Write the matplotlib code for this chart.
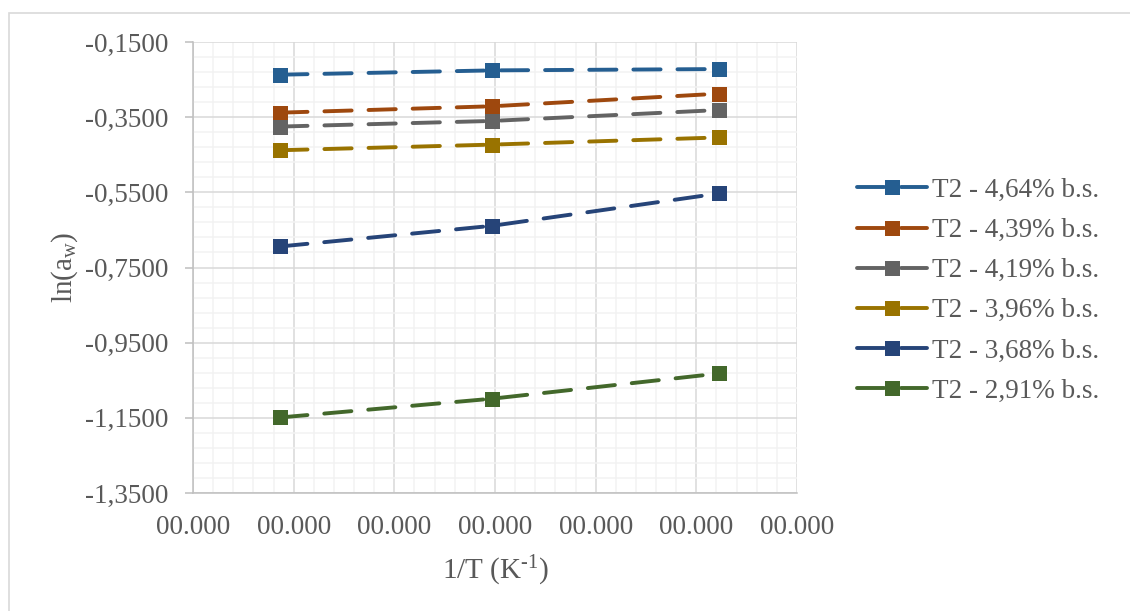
import numpy as np
import matplotlib
matplotlib.use("Agg")
import matplotlib.pyplot as plt
from matplotlib.ticker import FixedLocator, MultipleLocator, FuncFormatter
from matplotlib.patches import Rectangle

plt.rcParams['font.family'] = ['Liberation Serif', 'DejaVu Serif']
plt.rcParams['mathtext.fontset'] = 'custom'
plt.rcParams['mathtext.rm'] = 'Liberation Serif'
plt.rcParams['mathtext.it'] = 'Liberation Serif:italic'

# temperaturas 40, 30 e 20 °C
temp_K = np.array([313.15, 303.15, 293.15])
inv_T = 1.0 / temp_K

series = ["T2 - 4,64% b.s.", "T2 - 4,39% b.s.", "T2 - 4,19% b.s.",
          "T2 - 3,96% b.s.", "T2 - 3,68% b.s.", "T2 - 2,91% b.s."]
ln_aw_464 = [-0.237, -0.2255, -0.222]
ln_aw_439 = [-0.338, -0.321, -0.2875]
ln_aw_419 = [-0.375, -0.360, -0.331]
ln_aw_396 = [-0.438, -0.423, -0.404]
ln_aw_368 = [-0.694, -0.639, -0.553]
ln_aw_291 = [-1.149, -1.099, -1.032]
valores = [ln_aw_464, ln_aw_439, ln_aw_419, ln_aw_396, ln_aw_368, ln_aw_291]
cores = ["#255E91", "#9E480E", "#636363", "#997300", "#264478", "#43682B"]

cinza = "#595959"

fig = plt.figure(figsize=(11.3, 6.11), dpi=100)
# moldura do gráfico (só aparecem as bordas esquerda e superior)
fig.patches.append(Rectangle((9 / 1130, -0.5), 1.5, 1.5 - 13 / 611, transform=fig.transFigure,
                             fill=False, edgecolor="#d9d9d9", linewidth=1.2))
ax = fig.add_axes([193 / 1130, 1 - 493 / 611, 604 / 1130, 451 / 611])

for nome, y, c in zip(series, valores, cores):
    ax.plot(inv_T, y, color=c, linewidth=2.8, dashes=(7.0, 4.35), dash_capstyle='round',
            marker='s', markersize=10.8, markeredgewidth=0, label=nome, zorder=3)

ax.set_xlim(0.00315, 0.00345)
ax.set_ylim(-1.35, -0.15)
ax.xaxis.set_major_locator(MultipleLocator(0.00005))
ax.xaxis.set_minor_locator(MultipleLocator(0.00001))
ax.yaxis.set_major_locator(FixedLocator(np.linspace(-1.35, -0.15, 7)))
ax.yaxis.set_minor_locator(FixedLocator(np.linspace(-1.35, -0.15, 31)))
ax.xaxis.set_major_formatter(FuncFormatter(lambda v, p: "00.000"))
ax.yaxis.set_major_formatter(FuncFormatter(lambda v, p: f"{v:.4f}".replace(".", ",")))

ax.grid(which='major', color="#d9d9d9", linewidth=1.1, zorder=1)
ax.grid(which='minor', color="#f2f2f2", linewidth=1.1, zorder=0)
ax.set_axisbelow(True)
for s in ['top', 'right']:
    ax.spines[s].set_visible(False)
for s in ['left', 'bottom']:
    ax.spines[s].set_color("#bfbfbf")
    ax.spines[s].set_linewidth(1.1)

ax.tick_params(axis='y', which='major', length=6, width=1.1, color="#bfbfbf",
               labelsize=19.5, labelcolor=cinza, pad=12)
ax.tick_params(axis='x', which='major', length=0, labelsize=19.5, labelcolor=cinza, pad=16)
ax.tick_params(which='minor', length=0)

ax.set_xlabel(r"1/T (K$^{\mathregular{\text{-}1}}$)", fontsize=21, color=cinza, labelpad=10)
ax.set_ylabel(r"ln(a$_{\mathregular{w}}$)", fontsize=21, color=cinza, labelpad=3)

leg = fig.legend(loc='upper left', bbox_to_anchor=(846 / 1130, 1 - 167 / 611),
                 frameon=False, fontsize=19.5, labelcolor=cinza, handlelength=2.58,
                 handletextpad=0.2, labelspacing=0.56, borderaxespad=0)

fig.savefig("out.png", dpi=100)
